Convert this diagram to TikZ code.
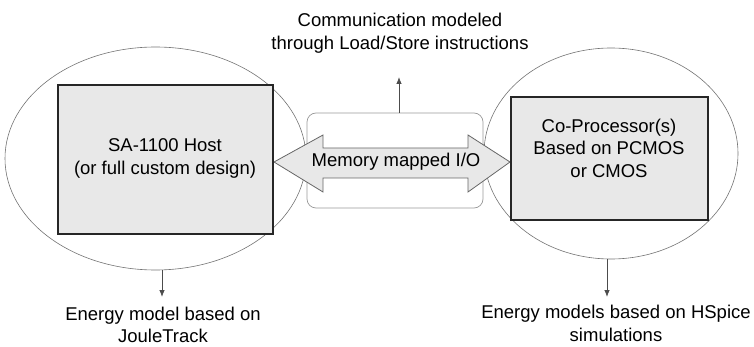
\documentclass[tikz,border=0pt]{standalone}
\usepackage{fontspec}
\setmainfont{Liberation Sans}
\usetikzlibrary{shapes.geometric,arrows.meta}
\begin{document}
\begin{tikzpicture}[x=1pt,y=-1pt,
  txt/.style={font=\fontsize{18.5}{22.5}\selectfont, align=center, inner sep=0pt, text=black},
  oval/.style={ellipse, draw=black!55, line width=0.6pt, inner sep=0pt},
  unit/.style={rectangle, draw=black!85, line width=1.4pt, fill=black!9, inner sep=0pt},
  conn/.style={draw=black!70, line width=0.8pt, -{Latex[length=7pt,width=5.5pt]}},
  bus/.style={draw=black!60, line width=0.8pt, fill=black!9, line join=miter}
]
\useasboundingbox (0,0) rectangle (754,347);
% ellipses
\node[oval, minimum width=301pt, minimum height=223pt] (lov) at (155.5,158.5) {};
\node[oval, minimum width=254pt, minimum height=211pt] (rov) at (611,153.5) {};
% rounded box
\node[rectangle, rounded corners=9pt, draw=black!40, line width=0.7pt, minimum width=176pt, minimum height=95pt, inner sep=0pt] (mbox) at (395,160.5) {};
% double arrow
\path[bus] (274,162) -- (323,135) -- (323,148) -- (468,148) -- (468,135) -- (510,162)
  -- (468,192) -- (468,178) -- (323,178) -- (323,192) -- cycle;
\node[txt] (mem) at (396,162) {Memory mapped I/O};
% rectangles
\node[unit, minimum width=215pt, minimum height=149pt] (host) at (165.5,159.5) {};
\node[unit, minimum width=197pt, minimum height=123pt] (cop) at (609.5,158.5) {};
\node[txt] (hosttxt) at (165,158.5) {SA-1100 Host\\(or full custom design)};
\node[txt] (coptxt) at (609,148) {Co-Processor(s)\\Based on PCMOS\\or CMOS};
% texts
\node[txt] (comm) at (400,33) {Communication modeled\\through Load/Store instructions};
\node[txt] (ejt) at (163,325) {Energy model based on\\JouleTrack};
\node[txt] (ehs) at (616,323.5) {Energy models based on HSpice\\simulations};
% connectors
\coordinate (up) at (399,77);
\draw[conn] (mbox.north -| up) -- (up);
\coordinate (ldn) at (162,297);
\draw[conn] (lov.south -| ldn) -- (ldn);
\coordinate (rdn) at (607,297);
\draw[conn] (rov.south -| rdn) -- (rdn);
\end{tikzpicture}
\end{document}
